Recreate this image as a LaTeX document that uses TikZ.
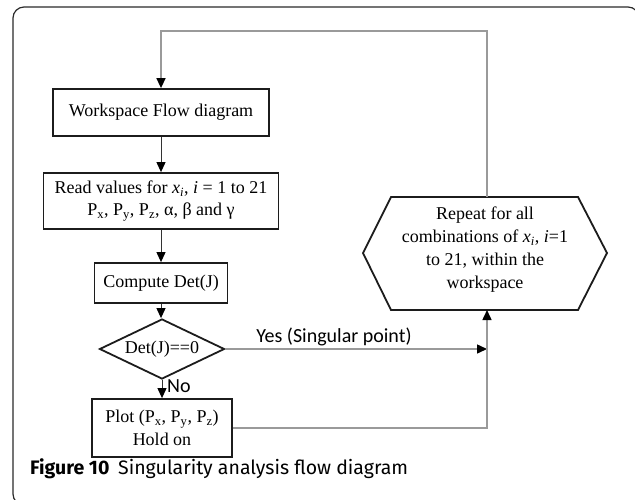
\documentclass[tikz,border=0pt]{standalone}
\usepackage{fontspec}
\setmainfont{Liberation Serif}
\newfontfamily\calib{Carlito}
\newfontfamily\capfont{Fira Sans}
\usetikzlibrary{arrows.meta,shapes.geometric}
\definecolor{boxc}{HTML}{1C1C1C}
\definecolor{connc}{HTML}{333333}
\definecolor{grayc}{HTML}{9A9A9A}
\definecolor{framec}{HTML}{2A2A2A}
\begin{document}
\begin{tikzpicture}[x=1pt,y=-1pt,
  box/.style={draw=boxc,line width=1.8pt,inner sep=0pt,align=center,font=\fontsize{18}{22.5}\selectfont},
  dia/.style={draw=boxc,line width=1.8pt,shape=diamond,aspect=2,inner sep=0pt,minimum width=125pt,minimum height=60pt,font=\fontsize{18}{22}\selectfont},
  conn/.style={draw=connc,line width=1pt,-{Triangle[length=10pt,width=9pt,color=black]}},
  gline/.style={draw=grayc,line width=1.5pt},
  garrow/.style={gline,-{Triangle[length=10pt,width=9pt,color=black]}},
  lbl/.style={font=\calib\fontsize{20}{24}\selectfont,inner sep=0pt}
]
\useasboundingbox (0,0) rectangle (635,499);
\begin{scope}
\clip (0,0) rectangle (635,499);
\draw[framec,line width=1.2pt,rounded corners=11pt] (13,7) rectangle (639,505);
\end{scope}

% nodes
\node[box,minimum width=216pt,minimum height=47pt] (ws) at (161,112.5) {Workspace Flow diagram};
\node[box,minimum width=235pt,minimum height=56pt] (rd) at (161,201) {Read values for \textit{x\textsubscript{i}}, \textit{i} = 1 to 21\\P\textsubscript{x}, P\textsubscript{y}, P\textsubscript{z}, α, β and γ};
\node[box,minimum width=133pt,minimum height=40pt] (cp) at (161,283) {Compute Det(J)};
\node[dia] (dm) at (162,349) {Det(J)==0};
\node[box,minimum width=140pt,minimum height=58pt] (pl) at (162,428) {Plot (P\textsubscript{x}, P\textsubscript{y}, P\textsubscript{z})\\Hold on};

% hexagon
\draw[draw=boxc,line width=1.8pt] (363,253) -- (391,197) -- (578,197) -- (607,253) -- (578,310) -- (391,310) -- cycle;
\node[align=center,inner sep=0pt,font=\fontsize{18}{23}\selectfont] (hx) at (485,250) {Repeat for all\\combinations of \textit{x\textsubscript{i}}, \textit{i}=1\\to 21, within the\\workspace};
\coordinate (hxT) at (487,197);
\coordinate (hxB) at (487,310);
\coordinate (tr) at (487,31);
\coordinate (tl) at (161,31);

% connectors
\draw[conn] (ws.south) -- (rd.north);
\draw[conn] (rd.south) -- (cp.north);
\draw[conn] (cp.south) -- (dm.north -| cp.south);
\draw[conn] (dm.south) -- (pl.north);
\draw[garrow] (dm.east) -- (dm.east -| hxB);
\draw[garrow] (pl.east) -- (pl.east -| hxB) -- (hxB);
\draw[garrow] (hxT) -- (tr) -- (tl) -- (ws.north);

% labels
\node[lbl,anchor=base] (yes) at (334,342) {Yes (Singular point)};
\node[lbl,anchor=west] (no) at (167,386) {No};
\node[anchor=base west,inner sep=0pt,font=\capfont\fontsize{19.5}{23}\selectfont] (cap) at (30,474) {\textbf{Figure 10}\hspace{0.45em}Singularity analysis flow diagram};
\end{tikzpicture}
\end{document}
